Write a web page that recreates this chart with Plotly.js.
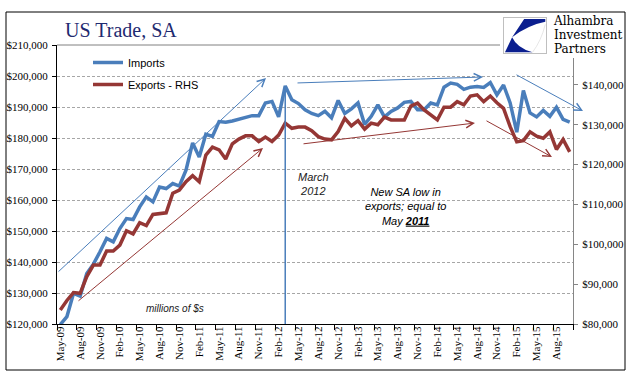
<!DOCTYPE html>
<html>
<head>
<meta charset="utf-8">
<script src="https://cdn.plot.ly/plotly-3.0.1.min.js"></script>
<style>html,body{margin:0;padding:0;background:#fff;}#chart{width:641px;height:381px;}</style>
</head>
<body>
<div id="chart"></div>
<script>
// ---- Data ----
const months = [
 "May-09","Jun-09","Jul-09","Aug-09","Sep-09","Oct-09","Nov-09","Dec-09","Jan-10","Feb-10","Mar-10","Apr-10",
 "May-10","Jun-10","Jul-10","Aug-10","Sep-10","Oct-10","Nov-10","Dec-10","Jan-11","Feb-11","Mar-11","Apr-11",
 "May-11","Jun-11","Jul-11","Aug-11","Sep-11","Oct-11","Nov-11","Dec-11","Jan-12","Feb-12","Mar-12","Apr-12",
 "May-12","Jun-12","Jul-12","Aug-12","Sep-12","Oct-12","Nov-12","Dec-12","Jan-13","Feb-13","Mar-13","Apr-13",
 "May-13","Jun-13","Jul-13","Aug-13","Sep-13","Oct-13","Nov-13","Dec-13","Jan-14","Feb-14","Mar-14","Apr-14",
 "May-14","Jun-14","Jul-14","Aug-14","Sep-14","Oct-14","Nov-14","Dec-14","Jan-15","Feb-15","Mar-15","Apr-15",
 "May-15","Jun-15","Jul-15","Aug-15","Sep-15","Oct-15"
];
const imports = [
 119800,122400,129900,129000,136300,139300,143300,147600,146500,150800,154000,153700,
 157800,161000,159400,164200,163700,165300,164500,169600,178400,173900,181200,180500,
 185300,185100,185500,186000,186500,187200,187200,191300,191800,186800,196800,192300,
 191100,189100,187900,187200,188600,186500,192100,187900,189400,191300,184400,187000,
 190700,186800,188600,189700,191500,191800,189100,189100,191300,190700,196400,197700,
 197300,195700,196400,196600,196300,197900,193900,197100,191300,181900,195300,188100,
 186800,188900,187000,189900,186000,185100
];
const exportsRHS = [
 83500,85900,87900,87700,91900,94800,94800,98300,98300,99800,103400,102600,
 105400,104700,107500,107800,107900,112800,113600,115700,117200,115700,122400,124400,
 123700,121400,125200,126400,127200,127200,125800,126900,125800,127400,130400,129100,
 129400,129400,128500,127000,126400,126200,128300,131600,129700,131000,128900,130400,
 130000,131900,131200,131200,131200,134700,135400,133700,132400,131200,134400,134400,
 135800,135000,137200,137500,135800,137200,135500,134100,129500,125700,126000,128200,
 127100,126600,128200,123800,126300,123200
];
const seriesNames = ["Imports", "Exports - RHS"];
const leftTicks = [120000,130000,140000,150000,160000,170000,180000,190000,200000,210000];
const leftTickText = ["$120,000","$130,000","$140,000","$150,000","$160,000","$170,000","$180,000","$190,000","$200,000","$210,000"];
const rightTicks = [80000,90000,100000,110000,120000,130000,140000];
const rightTickText = ["$80,000","$90,000","$100,000","$110,000","$120,000","$130,000","$140,000"];
const titleText = "US Trade, SA";
const logoLines = ["Alhambra", "Investment", "Partners"];
const marchLabel = "March<br>2012";
const lowNote = "New SA low in<br>exports; equal to<br>May <b><u>2011</u></b>";
const unitsNote = "millions of $s";
const markerMonth = "Mar-12";

// ---- geometry helpers (pixel -> paper) ----
const W = 641, H = 381;
const L = 57, R = 573, T = 45, B = 324;
const px = x => (x - L) / (R - L);
const py = y => (B - y) / (B - T);

const BLUE = "#4A7EBB", RED = "#953735";
const serif = "Liberation Serif, Times New Roman, serif";
const sans = "Liberation Sans, Arial, sans-serif";

const traces = [
  {x: months, y: imports, name: seriesNames[0], type: "scatter", mode: "lines",
   line: {color: BLUE, width: 3.5}, legendgroup: "a", yaxis: "y"},
  {x: months, y: exportsRHS, name: seriesNames[1], type: "scatter", mode: "lines",
   line: {color: RED, width: 3.5}, legendgroup: "b", yaxis: "y2"}
];

function arrow(tailX, tailY, tipX, tipY, color) {
  return {xref: "paper", yref: "paper", x: px(tipX), y: py(tipY), ax: tailX - tipX, ay: tailY - tipY,
    text: "", showarrow: true, arrowhead: 5, arrowsize: 1.5, arrowwidth: 1, arrowcolor: color,
    standoff: 0, startstandoff: 0};
}

const logoText = logoLines.map(t => '<span style="font-size:12px">' + t + '</span>').join("<br>");

const annotations = [
  arrow(57, 273, 266, 78, BLUE),
  arrow(77, 302, 263, 148, RED),
  arrow(296, 83, 483, 77, BLUE),
  arrow(302, 144, 475, 123, RED),
  arrow(515, 74, 583, 111, BLUE),
  arrow(485, 120, 552, 157, RED),
  {xref: "paper", yref: "paper", x: px(313), y: py(183.5), text: marchLabel, showarrow: false,
   font: {family: sans, size: 11, color: "#1a1a1a", style: "italic"}, align: "center"},
  {xref: "paper", yref: "paper", x: px(448), y: py(207), text: lowNote, showarrow: false,
   font: {family: sans, size: 11, color: "#000", style: "italic"}, align: "center"},
  {xref: "paper", yref: "paper", x: px(144), y: py(316), text: unitsNote, showarrow: false,
   font: {family: sans, size: 10, color: "#1a1a1a", style: "italic"}, align: "center"},
  {xref: "paper", yref: "paper", x: px(551), y: py(35.5), xanchor: "left", yanchor: "middle",
   text: logoText, showarrow: false, align: "left",
   font: {family: "DejaVu Serif, serif", size: 10.8, color: "#000"}}
];

const logoSvg = "<svg xmlns='http://www.w3.org/2000/svg' width='122' height='44' viewBox='0 0 122 44'>" +
  "<rect width='122' height='44' fill='white'/>" +
  "<rect x='3.5' y='3.5' width='43' height='36' fill='white' stroke='#BFBFBF' stroke-width='1'/>" +
  "<g transform='translate(4,4) scale(0.325,0.32)'>" +
  "<path d='M62,3 L127,3 L127,12 Q75,22 25,60 Z' fill='#0B1F8F'/>" +
  "<path d='M25,60 Q12,88 3,107 L88,107 Q40,94 25,60 Z' fill='#0B1F8F'/>" +
  "<path d='M88,107 Q115,70 127,20' fill='none' stroke='#D9D9D9' stroke-width='2'/>" +
  "</g></svg>";

const layout = {
  width: W, height: H,
  margin: {l: L, r: W - R, t: T, b: H - B, pad: 0},
  paper_bgcolor: "#fff", plot_bgcolor: "#fff",
  title: {text: titleText, font: {family: serif, size: 20, color: "#1F2A70"},
    xref: "container", yref: "container", x: 65 / W, xanchor: "left", y: 1 - 30 / H, yanchor: "middle"},
  showlegend: true,
  legend: {x: px(88), y: py(48), xanchor: "left", yanchor: "top", bgcolor: "rgba(0,0,0,0)",
    font: {family: sans, size: 11, color: "#000"}, tracegroupgap: 3, traceorder: "grouped"},
  xaxis: {type: "category", tickmode: "linear", tick0: 0, dtick: 3, tickson: "boundaries",
    range: [-0.5, months.length - 0.5], ticks: "outside", ticklen: 5, tickcolor: "#000",
    showline: true, linecolor: "#000", linewidth: 1, showgrid: false, tickangle: -90,
    tickfont: {family: serif, size: 11, color: "#000"}, ticklabelstandoff: -3, fixedrange: true},
  yaxis: {range: [120000, 210000], tickmode: "array", tickvals: leftTicks, ticktext: leftTickText,
    ticks: "outside", ticklen: 4, tickcolor: "#000", showline: true, linecolor: "#000",
    gridcolor: "#A6A6A6", griddash: "3px,2px", gridwidth: 1, zeroline: false,
    tickfont: {family: serif, size: 11, color: "#000"}, ticklabelstandoff: 2},
  yaxis2: {overlaying: "y", side: "right", range: [80000, 150000], tickmode: "array",
    tickvals: rightTicks, ticktext: rightTickText, ticks: "outside", ticklen: 4, tickcolor: "#868686",
    showline: true, linecolor: "#868686", showgrid: false, zeroline: false,
    tickfont: {family: serif, size: 11, color: "#000"}, ticklabelstandoff: 2},
  shapes: [
    {type: "line", xref: "paper", yref: "paper", x0: 0, x1: px(500), y0: 1, y1: 1,
     line: {color: "#808080", width: 1}},
    {type: "line", xref: "x", yref: "y", x0: markerMonth, x1: markerMonth, y0: 120000,
     y1: imports[months.indexOf(markerMonth)], line: {color: BLUE, width: 1.5}},
    {type: "rect", xref: "paper", yref: "paper", x0: px(6), x1: px(625), y0: py(370), y1: py(12),
     line: {color: "#000", width: 1}, fillcolor: "rgba(0,0,0,0)", layer: "above"}
  ],
  images: [{source: "data:image/svg+xml;charset=utf-8," + encodeURIComponent(logoSvg),
    xref: "paper", yref: "paper", x: px(500), y: py(14), sizex: px(622) - px(500), sizey: py(14) - py(58),
    xanchor: "left", yanchor: "top", sizing: "stretch", layer: "above"}],
  annotations: annotations
};

Plotly.newPlot("chart", traces, layout, {displayModeBar: false, staticPlot: true});
</script>
</body>
</html>
